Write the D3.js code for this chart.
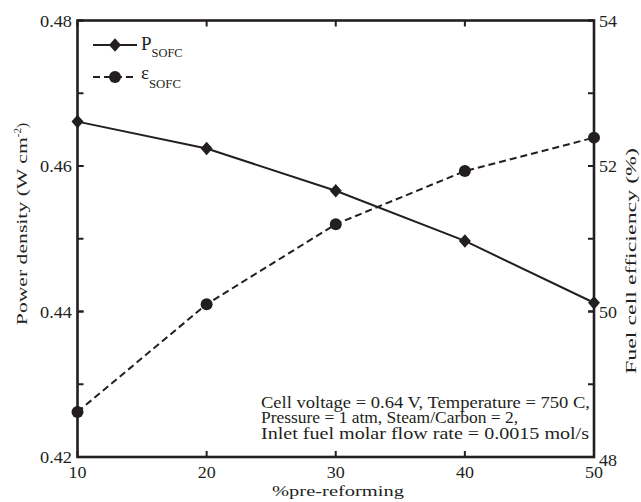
<!DOCTYPE html>
<html><head><meta charset="utf-8">
<script src="https://cdn.jsdelivr.net/npm/d3@7"></script>
<style>body{margin:0;background:#fff}svg{display:block}text{font-family:"Liberation Serif","Times New Roman",serif;fill:#231f20}</style>
</head><body><svg id="c" width="641" height="502"></svg>
<script>
const preReforming = [10, 20, 30, 40, 50];
const powerDensity = [0.4661, 0.4624, 0.4566, 0.4497, 0.4412];
const efficiency = [48.62, 50.10, 51.20, 51.93, 52.39];
const xTicks = [10, 20, 30, 40, 50];
const yLeftTicks = [0.42, 0.44, 0.46, 0.48];
const yRightTicks = [48, 49, 50, 51, 52, 53, 54];
const yRightLabels = [48, 50, 52, 54];
const annotation = ["Cell voltage = 0.64 V, Temperature = 750 C,", "Pressure = 1 atm, Steam/Carbon = 2,", "Inlet fuel molar flow rate = 0.0015 mol/s"];
const annotationWidths = [329, 257, 328];

const svg = d3.select("#c");
const L = 77.5, R = 594, T = 20.5, B = 457;
const x = d3.scaleLinear().domain([10, 50]).range([L, R]);
const yL = d3.scaleLinear().domain([0.42, 0.48]).range([B, T]);
const yR = d3.scaleLinear().domain([48, 54]).range([B, T]);
const col = "#231f20";
const fs = 17;

// ticks (inward, both sides)
const tk = svg.append("g").attr("stroke", col).attr("stroke-width", 2);
const tl = 6;
xTicks.forEach(v => {
  tk.append("line").attr("x1", x(v)).attr("x2", x(v)).attr("y1", B).attr("y2", B - tl);
  tk.append("line").attr("x1", x(v)).attr("x2", x(v)).attr("y1", T).attr("y2", T + tl);
});
yLeftTicks.forEach(v => {
  tk.append("line").attr("x1", L).attr("x2", L + tl).attr("y1", yL(v)).attr("y2", yL(v));
  tk.append("line").attr("x1", R).attr("x2", R - tl).attr("y1", yL(v)).attr("y2", yL(v));
});
yRightTicks.forEach(v => {
  tk.append("line").attr("x1", R).attr("x2", R - tl).attr("y1", yR(v)).attr("y2", yR(v));
  tk.append("line").attr("x1", L).attr("x2", L + tl).attr("y1", yR(v)).attr("y2", yR(v));
});

// box
svg.append("rect").attr("x", L).attr("y", T).attr("width", R - L).attr("height", B - T)
  .attr("fill", "none").attr("stroke", col).attr("stroke-width", 2.6);

// tick labels
xTicks.forEach(v => svg.append("text").attr("x", x(v)).attr("y", 477.5).attr("text-anchor", "middle").attr("font-size", fs).attr("textLength", 18).attr("lengthAdjust", "spacingAndGlyphs").text(v));
yLeftTicks.forEach(v => svg.append("text").attr("x", 72).attr("y", yL(v) + 6).attr("text-anchor", "end").attr("font-size", fs).attr("textLength", 32).attr("lengthAdjust", "spacingAndGlyphs").text(d3.format(".2f")(v)));
yRightLabels.forEach(v => svg.append("text").attr("x", 599).attr("y", yR(v) + (v === 48 ? 8.5 : 6)).attr("text-anchor", "start").attr("font-size", fs).attr("textLength", 18).attr("lengthAdjust", "spacingAndGlyphs").text(v));

// axis titles
svg.append("text").attr("x", 338).attr("y", 496).attr("text-anchor", "middle").attr("font-size", 15.5)
  .attr("textLength", 132).attr("lengthAdjust", "spacingAndGlyphs").text("%pre-reforming");
const lt = svg.append("text").attr("transform", "translate(27,224) rotate(-90)").attr("text-anchor", "middle").attr("font-size", 15.5);
lt.append("tspan").attr("textLength", 188).attr("lengthAdjust", "spacingAndGlyphs").text("Power density (W cm");
lt.append("tspan").attr("dy", -6).attr("font-size", 11).text("-2");
lt.append("tspan").attr("dy", 6).text(")");
svg.append("text").attr("transform", "translate(636,261) rotate(-90)").attr("text-anchor", "middle").attr("font-size", 15.5)
  .attr("textLength", 226).attr("lengthAdjust", "spacingAndGlyphs").text("Fuel cell efficiency (%)");

// series
const lineP = d3.line().x((d, i) => x(preReforming[i])).y(d => yL(d));
const lineE = d3.line().x((d, i) => x(preReforming[i])).y(d => yR(d));
svg.append("path").attr("d", lineP(powerDensity)).attr("fill", "none").attr("stroke", col).attr("stroke-width", 2);
svg.append("path").attr("d", lineE(efficiency)).attr("fill", "none").attr("stroke", col).attr("stroke-width", 2).attr("stroke-dasharray", "7,4");
const diamond = "M0,-6.8L6,0L0,6.8L-6,0Z";
svg.selectAll(".dm").data(powerDensity).join("path").attr("class", "dm")
  .attr("transform", (d, i) => `translate(${x(preReforming[i])},${yL(d)})`).attr("d", diamond).attr("fill", col);
svg.selectAll(".ci").data(efficiency).join("circle").attr("class", "ci")
  .attr("cx", (d, i) => x(preReforming[i])).attr("cy", d => yR(d)).attr("r", 6).attr("fill", col);

// legend
const lg = svg.append("g");
lg.append("line").attr("x1", 93).attr("x2", 137).attr("y1", 45).attr("y2", 45).attr("stroke", col).attr("stroke-width", 2);
lg.append("path").attr("transform", "translate(115,45)").attr("d", diamond).attr("fill", col);
const t1 = lg.append("text").attr("x", 141).attr("y", 49.5).attr("font-size", 19);
t1.append("tspan").text("P");
t1.append("tspan").attr("dy", 7.5).attr("font-size", 11.5).attr("textLength", 31).attr("lengthAdjust", "spacingAndGlyphs").text("SOFC");
lg.append("line").attr("x1", 93).attr("x2", 137).attr("y1", 77).attr("y2", 77).attr("stroke", col).attr("stroke-width", 2).attr("stroke-dasharray", "7,4");
lg.append("circle").attr("cx", 115).attr("cy", 77).attr("r", 6).attr("fill", col);
const t2 = lg.append("text").attr("x", 141).attr("y", 78.5).attr("font-size", 19);
t2.append("tspan").text("ε");
t2.append("tspan").attr("dy", 9.5).attr("font-size", 11.5).attr("textLength", 32).attr("lengthAdjust", "spacingAndGlyphs").text("SOFC");

// annotation
annotation.forEach((s, i) => svg.append("text").attr("x", 261).attr("y", 407.5 + i * 15.5).attr("font-size", 16)
  .attr("textLength", annotationWidths[i]).attr("lengthAdjust", "spacingAndGlyphs").text(s));
</script></body></html>
